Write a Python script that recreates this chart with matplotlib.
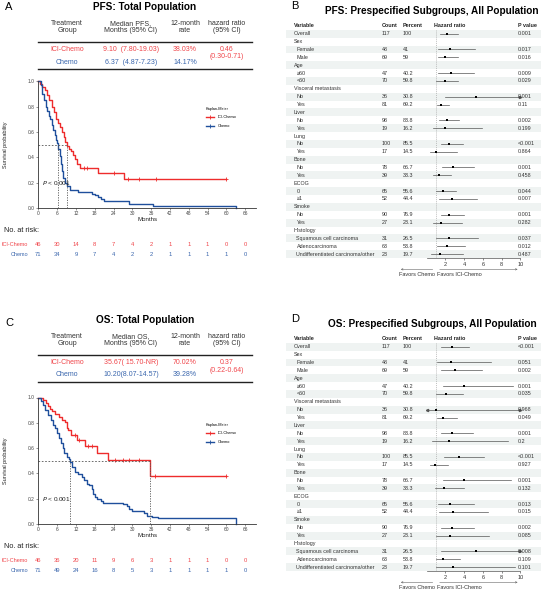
import numpy as np
import matplotlib
matplotlib.use('Agg')
import matplotlib.pyplot as plt
import matplotlib.transforms as mtransforms
from matplotlib.lines import Line2D
from matplotlib.patches import Rectangle

plt.rcParams['font.family'] = ['Liberation Sans', 'DejaVu Sans']

RED = '#ee2c2c'
BLUE = '#1f4f9c'
RED_T = '#f0454a'
BLUE_T = '#3a66ad'

# ---------------- KM data (months, survival after each step) ----------------
pfs_ici_t = [0.5, 1.2, 2.0, 2.8, 3.5, 4.3, 5.0, 5.6, 6.3, 7.0, 7.6, 8.1, 8.6, 9.1, 9.8,
             10.4, 11.0, 11.6, 12.3, 13.3, 19.0, 27.3]
pfs_ici_s = [0.98, 0.96, 0.93, 0.89, 0.85, 0.80, 0.76, 0.70, 0.67, 0.64, 0.60, 0.56, 0.52, 0.49, 0.47,
             0.45, 0.42, 0.39, 0.35, 0.32, 0.28, 0.23]
pfs_ici_cens = [14.5, 15.6, 24.0, 28.5, 32.0, 37.5, 60.0]
pfs_ici_end = 60.0

pfs_chemo_t = [0.8, 1.3, 1.8, 2.3, 2.8, 3.3, 3.8, 4.3, 4.8, 5.2, 5.6, 6.0, 6.4, 6.8, 7.2, 7.6, 8.0,
               8.5, 9.0, 10.0, 12.5, 17.0, 18.0, 19.0, 20.0, 21.0, 29.0, 36.5, 63.0]
pfs_chemo_s = [0.97, 0.90, 0.85, 0.80, 0.77, 0.73, 0.70, 0.66, 0.62, 0.58, 0.54, 0.51, 0.47, 0.41, 0.35,
               0.29, 0.24, 0.20, 0.17, 0.142, 0.127, 0.113, 0.099, 0.085, 0.07, 0.056, 0.028, 0.014, 0.0]
pfs_chemo_cens = []
pfs_chemo_end = 63.0

os_ici_t = [1.5, 2.5, 3.2, 3.8, 4.5, 5.3, 6.5, 7.5, 8.4, 9.0, 9.6, 10.5, 12.2, 15.0, 18.6, 22.3, 35.67]
os_ici_s = [0.978, 0.957, 0.935, 0.913, 0.891, 0.870, 0.848, 0.826, 0.804, 0.76, 0.74, 0.70, 0.665,
            0.62, 0.565, 0.505, 0.38]
os_ici_cens = [11.8, 13.0, 16.0, 17.0, 24.5, 27.0, 29.0, 32.0, 37.3, 60.0]
os_ici_end = 60.0

os_chemo_t = [0.8, 1.6, 2.1, 3.2, 3.9, 4.8, 5.3, 6.1, 6.7, 7.2, 7.8, 8.3, 9.0, 9.9, 10.2, 10.6, 11.7,
              12.8, 13.8, 14.6, 15.4, 16.3, 17.0, 17.5, 18.1, 18.6, 19.9, 20.7, 27.1, 28.2, 29.0, 29.8,
              33.8, 34.8, 36.1, 38.3, 63.0]
os_chemo_s = [0.97, 0.94, 0.90, 0.86, 0.82, 0.78, 0.755, 0.72, 0.68, 0.64, 0.60, 0.56, 0.53, 0.51, 0.49,
              0.45, 0.41, 0.393, 0.37, 0.345, 0.32, 0.305, 0.28, 0.24, 0.21, 0.20, 0.18, 0.167, 0.155,
              0.146, 0.12, 0.105, 0.09, 0.066, 0.055, 0.044, 0.0]
os_chemo_cens = []
os_chemo_end = 63.0

risk_months = [0, 6, 12, 18, 24, 30, 36, 42, 48, 54, 60, 66]
pfs_risk_ici = [46, 30, 14, 8, 7, 4, 2, 1, 1, 1, 0, 0]
pfs_risk_chemo = [71, 34, 9, 7, 4, 2, 2, 1, 1, 1, 1, 0]
os_risk_ici = [46, 36, 20, 11, 9, 6, 3, 1, 1, 1, 0, 0]
os_risk_chemo = [71, 49, 24, 16, 8, 5, 3, 1, 1, 1, 1, 0]

# ---------------- forest data ----------------
row_labels = ['Overall', 'Sex', 'Female', 'Male', 'Age', '≥60', '<60', 'Visceral metastasis', 'No', 'Yes',
              'Liver', 'No', 'Yes', 'Lung', 'No', 'Yes', 'Bone', 'No', 'Yes', 'ECOG', '0', '≥1',
              'Smoke', 'No', 'Yes', 'Histology', 'Squamous cell carcinoma', 'Adenocarcinoma',
              'Undifferentiated carcinoma/other']
row_count = ['117', '', '48', '69', '', '47', '70', '', '36', '81', '', '98', '19', '', '100', '17', '',
             '78', '39', '', '65', '52', '', '90', '27', '', '31', '63', '23']
row_pct = ['100', '', '41', '59', '', '40.2', '59.8', '', '30.8', '69.2', '', '83.8', '16.2', '', '85.5',
           '14.5', '', '66.7', '33.3', '', '55.6', '44.4', '', '76.9', '23.1', '', '26.5', '53.8', '19.7']
row_is_group = [False, True, False, False, True, False, False, True, False, False, True, False, False,
                True, False, False, True, False, False, True, False, False, True, False, False, True,
                False, False, False]

N = np.nan
pfs_hr = [2.17, N, 2.50, 2.00, N, 2.57, 1.93, N, 5.23, 1.54, N, 2.18, 2.00, N, 2.43, 1.04, N, 2.82, 1.29,
          N, 1.78, 2.67, N, 2.43, 1.57, N, 2.43, 2.21, 1.43]
pfs_lo = [1.41, N, 1.25, 1.18, N, 1.25, 1.00, N, 1.96, 1.07, N, 1.32, 0.68, N, 1.50, 0.36, N, 1.61, 0.65,
          N, 1.00, 1.36, N, 1.50, 0.72, N, 1.00, 1.14, 0.47]
pfs_hi = [3.33, N, 5.16, 3.39, N, 5.02, 3.39, N, 14.0, 2.43, N, 3.49, 5.91, N, 3.92, 3.28, N, 5.06, 2.57,
          N, 3.14, 5.41, N, 3.99, 3.74, N, 5.48, 4.13, 3.85]
pfs_p = ['0.001', '', '0.017', '0.016', '', '0.009', '0.029', '', '0.001', '0.11', '', '0.002', '0.199', '',
         '<0.001', '0.864', '', '0.001', '0.458', '', '0.044', '0.007', '', '0.001', '0.282', '', '0.037',
         '0.012', '0.487']

os_hr = [2.70, N, 2.60, 3.00, N, 3.95, 2.10, N, 1.00, 1.79, N, 2.75, 2.39, N, 3.46, 0.93, N, 3.99, 1.82,
         N, 2.50, 2.78, N, 2.67, 2.46, N, 5.27, 1.75, 2.78]
os_lo = [1.56, N, 1.07, 1.54, N, 1.71, 1.00, N, 0.02, 1.07, N, 1.57, 0.61, N, 1.86, 0.36, N, 1.78, 0.93,
         N, 1.25, 1.29, N, 1.50, 1.00, N, 1.54, 1.00, 0.97]
os_hi = [4.55, N, 6.87, 5.87, N, 9.25, 3.92, N, 40.0, 3.28, N, 4.98, 8.72, N, 6.12, 2.28, N, 8.97, 4.03,
         N, 5.09, 6.51, N, 5.09, 6.69, N, 14.0, 3.56, 9.43]
os_p = ['<0.001', '', '0.051', '0.002', '', '0.001', '0.035', '', '0.968', '0.049', '', '0.001', '0.2', '',
        '<0.001', '0.927', '', '0.001', '0.132', '', '0.013', '0.015', '', '0.002', '0.085', '', '0.008',
        '0.109', '0.101']

# ---------------- figure ----------------
W, H = 546, 592
fig = plt.figure(figsize=(W / 100, H / 100), dpi=100)
# pixel coords, origin top-left
PX = mtransforms.Affine2D().scale(1 / W, -1 / H).translate(0, 1) + fig.transFigure


def rect(l, t, r, b):
    return [l / W, 1 - b / H, (r - l) / W, (b - t) / H]


def surv_at(times, surv, t):
    i = np.searchsorted(times, t, side='right')
    return 1.0 if i == 0 else surv[i - 1]


def draw_km(dy, kdy, letter, title, med_head, ici_row, chemo_row, hr_txt, hr_ci,
            ici, chemo, medians, risk_i, risk_c):
    fig.text(5, 7 + kdy, letter, transform=PX, fontsize=8, ha='left', va='center')
    fig.text(145, 7 + dy, title, transform=PX, fontsize=7.2, fontweight='bold', ha='center', va='center')

    # summary table
    cols = [67, 131, 185, 227]
    heads = ['Treatment\nGroup', med_head, '12-month\nrate', 'hazard ratio\n(95% CI)']
    for x, h in zip(cols, heads):
        fig.text(x, 27 + dy, h, transform=PX, fontsize=5, ha='center', va='center',
                 color='#333333', linespacing=1.15)
    for yl in (42.3, 69):
        fig.add_artist(Line2D([38.3, 251.7], [yl + dy, yl + dy], transform=PX, color='#222222', lw=1.0))
    for x, s in zip(cols[:3], ici_row):
        fig.text(x, 49.5 + dy, s, transform=PX, fontsize=5, ha='center', va='center', color=RED_T)
    for x, s in zip(cols[:3], chemo_row):
        fig.text(x, 62 + dy, s, transform=PX, fontsize=5, ha='center', va='center', color=BLUE_T)
    fig.text(cols[3], 49.5 + dy, hr_txt, transform=PX, fontsize=5, ha='center', va='center', color=RED_T)
    fig.text(cols[3], 57 + dy, hr_ci, transform=PX, fontsize=5, ha='center', va='center', color=RED_T)

    # KM axes
    ax = fig.add_axes(rect(38.3, 81.5 + kdy, 38.3 + 69.5 * 3.136, 208 + kdy))
    ax.set_xlim(0, 69.5)
    ax.set_ylim(0, 1.0)
    for name, (t, s, cens, end), col in [('ICI-Chemo', ici, RED), ('Chemo', chemo, BLUE)]:
        x = np.r_[0, t, end]
        y = np.r_[1, s, s[-1]]
        ax.step(x, y, where='post', color=col, lw=1.0, clip_on=False)
        cy = [surv_at(t, s, c) for c in cens]
        ax.plot(cens, cy, ls='none', marker='+', ms=3, mew=0.6, color=col, clip_on=False)
    ax.plot([0, max(medians)], [0.5, 0.5], ls=(0, (2, 2)), color='#555555', lw=0.6)
    for m in medians:
        ax.plot([m, m], [0, 0.5], ls=(0, (1.5, 1.5)), color='#555555', lw=0.6)
    ax.text(1.3, 0.2, r'$P$ < 0.001', fontsize=4.6, ha='left', va='center', color='#222222')

    ax.set_xticks(risk_months)
    ax.set_yticks([0, 0.2, 0.4, 0.6, 0.8, 1.0])
    ax.set_yticklabels(['0.0', '0.2', '0.4', '0.6', '0.8', '1.0'])
    ax.tick_params(labelsize=3.5, length=1.5, width=0.4, pad=1, colors='#444444')
    for sp in ('top', 'right'):
        ax.spines[sp].set_visible(False)
    for sp in ('left', 'bottom'):
        ax.spines[sp].set_linewidth(0.6)
        ax.spines[sp].set_color('#333333')
    ax.set_xlabel('Months', fontsize=4.4, labelpad=0.5, color='#222222')
    ax.set_ylabel('Survival probability', fontsize=4, labelpad=9, color='#222222')
    ax.yaxis.set_label_coords(-0.14, 0.5)

    handles = [Line2D([], [], color=RED, lw=1.0, marker='+', ms=3, mew=0.6),
               Line2D([], [], color=BLUE, lw=1.0, marker='+', ms=3, mew=0.6)]
    ax.legend(handles, ['ICI-Chemo', 'Chemo'], title='Kaplan-Meier', loc='upper left',
              bbox_to_anchor=(203, 104 + kdy), bbox_transform=PX, frameon=False,
              fontsize=2.8, title_fontsize=2.8, handlelength=2.2, labelspacing=1.2,
              alignment='left', borderpad=0.2)

    # risk table
    fig.text(4, 230 + kdy, 'No. at risk:', transform=PX, fontsize=5.3, ha='left', va='center',
             color='#222222')
    tr = mtransforms.blended_transform_factory(ax.transData, PX)
    for yy, lab, vals, col in [(244 + kdy, 'ICI-Chemo', risk_i, RED_T), (254 + kdy, 'Chemo', risk_c, BLUE_T)]:
        fig.text(28, yy, lab, transform=PX, fontsize=4, ha='right', va='center', color=col)
        for m, v in zip(risk_months, vals):
            ax.text(m, yy, str(v), transform=tr, fontsize=4.2, ha='center', va='center', color=col,
                    clip_on=False)
    return ax


def draw_forest(dy, letter, title, hr, lo, hi, pv):
    fig.text(291, 6 + dy, letter, transform=PX, fontsize=8, ha='left', va='center')
    fig.text(432, 11 + dy, title, transform=PX, fontsize=7.2, fontweight='bold', ha='center',
             va='center')
    n = len(row_labels)
    top = 33.7 - 3.93 + dy
    bot = top + n * 7.87
    ax = fig.add_axes(rect(426.6, top, 520.4, bot))
    ax.set_xlim(0, 10)
    ax.set_ylim(n - 0.5, -0.5)
    tr = mtransforms.blended_transform_factory(PX, ax.transData)

    for i in range(n):
        if i % 2 == 0:
            ax.add_patch(Rectangle((286, i - 0.5), 255, 1, transform=tr, facecolor='#eff3f2',
                                   edgecolor='none', clip_on=False, zorder=0))
    fs = 3.9
    hdr = [(293.7, 'Variable'), (382, 'Count'), (403, 'Percent'), (434, 'Hazard ratio'), (518, 'P value')]
    for x, s in hdr:
        ax.text(x, -1.07, s, transform=tr, fontsize=fs, fontweight='bold', ha='left', va='center',
                color='#222222', clip_on=False)
    for i in range(n):
        x0 = 293.7 if row_is_group[i] or i == 0 else 296.5
        ax.text(x0, i, row_labels[i], transform=tr, fontsize=fs, ha='left', va='center', color='#333333')
        ax.text(382, i, row_count[i], transform=tr, fontsize=fs, ha='left', va='center', color='#333333')
        ax.text(403, i, row_pct[i], transform=tr, fontsize=fs, ha='left', va='center', color='#333333')
        ax.text(518, i, pv[i], transform=tr, fontsize=fs, ha='left', va='center', color='#333333')

    ax.axvline(1, ls=(0, (1.5, 1.5)), color='#aaaaaa', lw=0.5, zorder=1)
    for i in range(n):
        if np.isnan(hr[i]):
            continue
        l, h = max(lo[i], 0.08), min(hi[i], 10)
        ax.plot([l, h], [i, i], color='#555555', lw=0.5, clip_on=False, zorder=2)
        if hi[i] > 10:
            ax.plot([10], [i], marker='>', ms=1.6, color='#555555', clip_on=False, zorder=2)
        if lo[i] < 0.08:
            ax.plot([0.08], [i], marker='<', ms=1.6, color='#555555', clip_on=False, zorder=2)
        ax.plot([hr[i]], [i], marker='s', ms=1.6, color='black', mew=0, zorder=3)

    ax.set_xticks([2, 4, 6, 8, 10])
    ax.set_yticks([])
    ax.tick_params(axis='x', labelsize=4, length=1.5, width=0.4, pad=1.5, colors='#333333')
    for sp in ('top', 'right', 'left'):
        ax.spines[sp].set_visible(False)
    ax.spines['bottom'].set_linewidth(0.5)
    ax.spines['bottom'].set_color('#555555')
    ax.patch.set_alpha(0)

    tra = mtransforms.blended_transform_factory(ax.transData, PX)
    ay = 269.3 + dy
    ax.annotate('', xy=(-3.05, ay), xytext=(0.95, ay), xycoords=tra, textcoords=tra,
                arrowprops=dict(arrowstyle='->', lw=0.4, color='#666666', mutation_scale=3))
    ax.annotate('', xy=(10.0, ay), xytext=(1.1, ay), xycoords=tra, textcoords=tra,
                arrowprops=dict(arrowstyle='->', lw=0.4, color='#666666', mutation_scale=3))
    ax.text(0.85, ay + 5.5, 'Favors Chemo', transform=tra, fontsize=4, ha='right', va='center',
            color='#333333', clip_on=False)
    ax.text(1.15, ay + 5.5, 'Favors ICI-Chemo', transform=tra, fontsize=4, ha='left', va='center',
            color='#333333', clip_on=False)
    return ax


draw_km(0, 0, 'A', 'PFS: Total Population', 'Median PFS,\nMonths (95% CI)',
        ['ICI-Chemo', '9.10  (7.80-19.03)', '38.03%'], ['Chemo', '6.37  (4.87-7.23)', '14.17%'],
        '0.46', '(0.30-0.71)',
        (pfs_ici_t, pfs_ici_s, pfs_ici_cens, pfs_ici_end),
        (pfs_chemo_t, pfs_chemo_s, pfs_chemo_cens, pfs_chemo_end),
        [6.37, 9.10], pfs_risk_ici, pfs_risk_chemo)

draw_km(313, 316, 'C', 'OS: Total Population', 'Median OS,\nMonths (95% CI)',
        ['ICI-Chemo', '35.67( 15.70-NR)', '70.02%'], ['Chemo', '10.20(8.07-14.57)', '39.28%'],
        '0.37', '(0.22-0.64)',
        (os_ici_t, os_ici_s, os_ici_cens, os_ici_end),
        (os_chemo_t, os_chemo_s, os_chemo_cens, os_chemo_end),
        [10.20, 35.67], os_risk_ici, os_risk_chemo)

draw_forest(0, 'B', 'PFS: Prespecified Subgroups, All Population', pfs_hr, pfs_lo, pfs_hi, pfs_p)
draw_forest(313, 'D', 'OS: Prespecified Subgroups, All Population', os_hr, os_lo, os_hi, os_p)

fig.savefig('out.png', dpi=100)
